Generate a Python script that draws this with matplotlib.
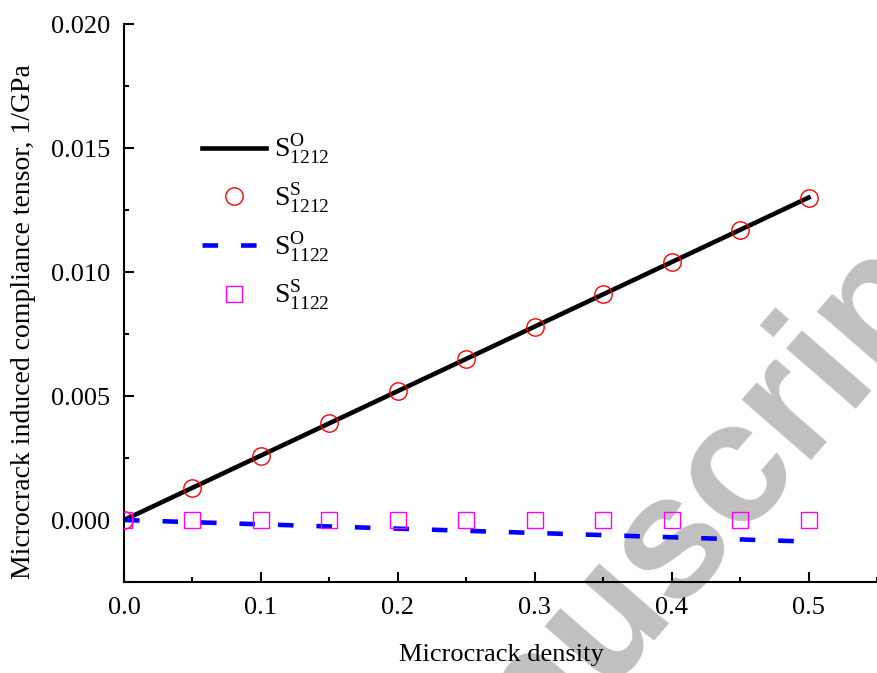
import matplotlib.pyplot as plt
from matplotlib.ticker import MultipleLocator, FormatStrFormatter

plt.rcParams['font.family'] = 'Liberation Serif'
plt.rcParams['mathtext.fontset'] = 'custom'
plt.rcParams['mathtext.rm'] = 'Liberation Serif'
plt.rcParams['mathtext.it'] = 'Liberation Serif'

density = [0.0, 0.05, 0.1, 0.15, 0.2, 0.25, 0.3, 0.35, 0.4, 0.45, 0.5]
s1212_sim = [0.0, 0.0013, 0.0026, 0.0039, 0.0052, 0.0065, 0.0078, 0.0091, 0.0104, 0.0117, 0.0130]
s1122_sim = [0.0, 0.0, 0.0, 0.0, 0.0, 0.0, 0.0, 0.0, 0.0, 0.0, 0.0]
line_x = [0.0, 0.5]
s1212_ana = [0.0, 0.0130]
s1122_ana = [0.0, -0.00087]

fig = plt.figure(figsize=(8.77, 6.73), dpi=100)
ax = fig.add_axes([0.1414, 0.1352, 0.8586, 0.8291])
ax.patch.set_visible(False)

# watermark behind the plot
fig.text(0.775, 0.111, 'Manuscript', family='Liberation Sans', fontsize=125,
         fontweight='bold', color='#c0c0c0', rotation=49, rotation_mode='anchor',
         ha='center', va='baseline', zorder=-1)

ax.plot(line_x, s1212_ana, color='black', lw=3.3, label=r'$\mathregular{S^{O}_{1212}}$', zorder=2)
ax.plot(density, s1212_sim, ls='none', marker='o', ms=12.5, mfc='none', mec='red', mew=1,
        label=r'$\mathregular{S^{S}_{1212}}$', zorder=3)
ax.plot(line_x, s1122_ana, color='blue', lw=3.3, dashes=(3.4, 5.0),
        label=r'$\mathregular{S^{O}_{1122}}$', zorder=2)
ax.plot(density, s1122_sim, ls='none', marker='s', ms=11.5, mfc='none', mec='magenta', mew=1,
        label=r'$\mathregular{S^{S}_{1122}}$', zorder=3)

ax.set_xlim(0, 0.55)
ax.set_ylim(-0.0025, 0.020)
ax.xaxis.set_major_locator(MultipleLocator(0.1))
ax.xaxis.set_minor_locator(MultipleLocator(0.05))
ax.yaxis.set_major_locator(MultipleLocator(0.005))
ax.yaxis.set_minor_locator(MultipleLocator(0.0025))
ax.xaxis.set_major_formatter(FormatStrFormatter('%.1f'))
ax.yaxis.set_major_formatter(FormatStrFormatter('%.3f'))

for s in ['top', 'right']:
    ax.spines[s].set_visible(False)
for s in ['left', 'bottom']:
    ax.spines[s].set_linewidth(1.5)
ax.tick_params(which='both', direction='in', width=1.5, labelsize=19)
ax.tick_params(which='major', length=7)
ax.tick_params(which='minor', length=3.5)
ax.tick_params(axis='x', pad=11)
ax.tick_params(axis='y', pad=10)

fig.text(0.572, 0.027, 'Microcrack density', fontsize=19, ha='center', va='center')
fig.text(0.027, 0.522, 'Microcrack induced compliance tensor, 1/GPa', fontsize=20,
         rotation=90, ha='center', va='center')

ax.legend(loc='upper left', bbox_to_anchor=(0.07, 0.85), frameon=False, fontsize=20,
          handlelength=2.3, labelspacing=0.55, handletextpad=0.3)

fig.savefig('out.png', dpi=100)
